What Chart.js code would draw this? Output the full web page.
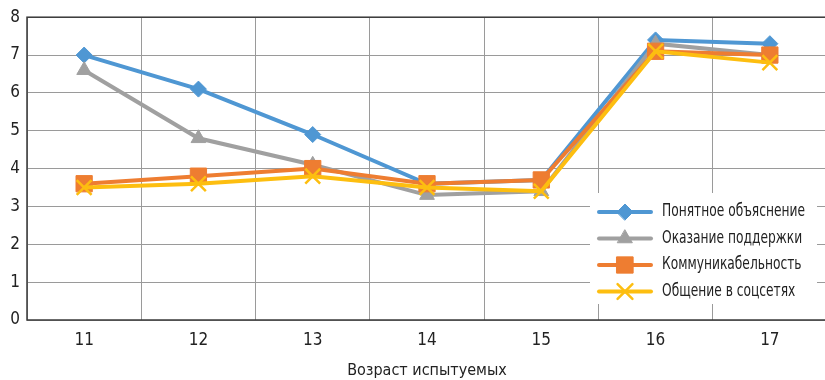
<!DOCTYPE html>
<html>
<head>
<meta charset="utf-8">
<script src="https://cdn.jsdelivr.net/npm/chart.js@4.4.1/dist/chart.umd.min.js"></script>
<style>
  body { margin: 0; overflow: hidden; background: #fff; width: 825px; height: 380px; }
  canvas { display: block; }
</style>
</head>
<body>
<canvas id="chart" width="827" height="380"></canvas>
<script>
// данные графика
const vozrast = ['11', '12', '13', '14', '15', '16', '17'];
const ponyatnoe = [7.0, 6.1, 4.9, 3.6, 3.7, 7.4, 7.3];
const podderzhka = [6.6, 4.8, 4.1, 3.3, 3.4, 7.3, 7.0];
const kommunik = [3.6, 3.8, 4.0, 3.6, 3.7, 7.1, 7.0];
const socseti = [3.5, 3.6, 3.8, 3.5, 3.4, 7.1, 6.8];
const yTicks = [0, 1, 2, 3, 4, 5, 6, 7, 8];

const FONT = "'Liberation Sans Narrow', 'DejaVu Sans Condensed', sans-serif";

// order: последняя серия рисуется поверх остальных
function serie(label, data, color, style, r, order) {
    return {
        label: label,
        data: data,
        order: order,
        borderColor: color,
        backgroundColor: color,
        borderWidth: 4,
        pointStyle: style,
        pointRadius: r,
        pointBorderWidth: style === 'crossRot' ? 2.5 : 1,
        pointBorderColor: color,
        tension: 0
    };
}

// рамка области графика
const ramka = {
    id: 'ramka',
    beforeDatasetsDraw(chart) {
        const a = chart.chartArea, ctx = chart.ctx;
        ctx.save();
        ctx.strokeStyle = '#3a3a3a';
        ctx.lineWidth = 1.5;
        ctx.strokeRect(a.left, a.top, a.right - a.left, a.bottom - a.top);
        ctx.restore();
    }
};

// легенда внутри графика, справа внизу
const legenda = {
    id: 'legenda',
    afterDraw(chart) {
        const ctx = chart.ctx;
        const x0 = 590, y0 = 193, w = 227, h = 111;
        ctx.save();
        ctx.fillStyle = '#fff';
        ctx.fillRect(x0, y0, w, h);
        ctx.font = '17px ' + FONT;
        ctx.textBaseline = 'middle';
        // узкий шрифт: сжимаем по ширине самой длинной подписи
        const k = Math.min(1, 143 / ctx.measureText(chart.data.datasets[0].label).width);
        chart.data.datasets.forEach((ds, i) => {
            const y = 212 + i * 26.5;
            ctx.strokeStyle = ds.borderColor;
            ctx.lineWidth = 4;
            ctx.lineCap = 'round';
            ctx.beginPath();
            ctx.moveTo(599, y);
            ctx.lineTo(651, y);
            ctx.stroke();
            ctx.fillStyle = ds.borderColor;
            ctx.lineWidth = ds.pointBorderWidth;
            Chart.helpers.drawPoint(ctx, {
                pointStyle: ds.pointStyle,
                radius: ds.pointRadius,
                borderWidth: ds.pointBorderWidth
            }, 625, y);
            ctx.save();
            ctx.translate(662, y);
            ctx.scale(k, 1);
            ctx.fillStyle = '#222';
            ctx.fillText(ds.label, 0, 0);
            ctx.restore();
        });
        ctx.restore();
    }
};

new Chart(document.getElementById('chart'), {
    type: 'line',
    data: {
        labels: vozrast,
        datasets: [
            serie('Понятное объяснение', ponyatnoe, '#4F97D3', 'rectRot', 8, 4),
            serie('Оказание поддержки', podderzhka, '#A0A0A0', 'triangle', 8.5, 3),
            serie('Коммуникабельность', kommunik, '#EE7D31', 'rect', 11.5, 2),
            serie('Общение в соцсетях', socseti, '#FDBE10', 'crossRot', 10.5, 1)
        ]
    },
    options: {
        responsive: false,
        animation: false,
        layout: { autoPadding: false, padding: { top: 17, right: 0, left: 0, bottom: 0 } },
        plugins: {
            legend: { display: false },
            tooltip: { enabled: false }
        },
        scales: {
            x: {
                offset: true,
                grid: { offset: true, color: '#9a9a9a', lineWidth: 1, drawTicks: false },
                border: { display: false },
                ticks: { color: '#222', font: { family: FONT, size: 17 }, padding: 10 },
                title: {
                    display: true,
                    text: 'Возраст испытуемых',
                    color: '#222',
                    font: { family: FONT, size: 16 },
                    padding: { top: 6, bottom: 0 }
                },
                afterFit(scale) {
                    scale.height = 60;
                    scale.paddingLeft = 0;
                    scale.paddingRight = 0;
                }
            },
            y: {
                min: 0,
                max: 8,
                afterBuildTicks(scale) { scale.ticks = yTicks.map(v => ({ value: v })); },
                grid: { color: '#9a9a9a', lineWidth: 1, drawTicks: false },
                border: { display: false },
                ticks: { color: '#222', font: { family: FONT, size: 17 }, padding: 7 },
                afterFit(scale) { scale.width = 27; }
            }
        }
    },
    plugins: [ramka, legenda]
});
</script>
</body>
</html>
